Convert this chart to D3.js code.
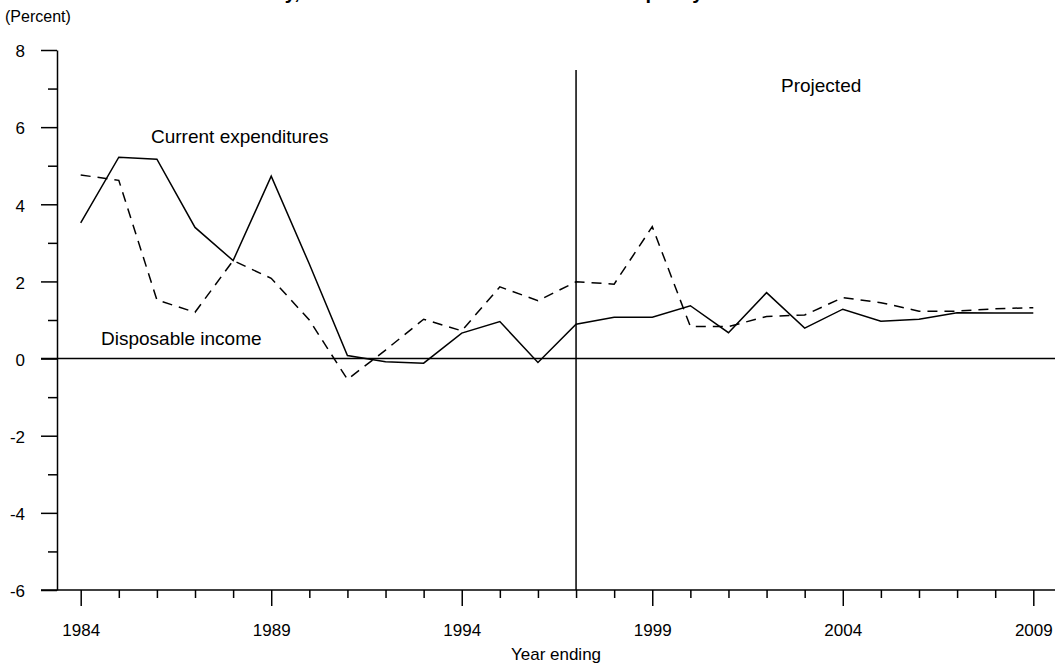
<!DOCTYPE html>
<html>
<head>
<meta charset="utf-8">
<script src="https://cdn.jsdelivr.net/npm/d3@7"></script>
<style>
  html, body { margin: 0; padding: 0; background: #fff; }
  svg { display: block; font-family: "Liberation Sans", Arial, Helvetica, sans-serif; }
</style>
</head>
<body>
<svg id="chart" width="1055" height="666"></svg>
<script>
// Annual growth, percent
const years = d3.range(1984, 2010);
const currentExpenditures = [3.52, 5.22, 5.17, 3.40, 2.54, 4.73, 2.45, 0.08, -0.08, -0.12,
  0.66, 0.96, -0.10, 0.89, 1.07, 1.07, 1.37, 0.67, 1.71, 0.79,
  1.28, 0.97, 1.02, 1.19, 1.18, 1.18];
const disposableIncome = [4.76, 4.62, 1.52, 1.20, 2.54, 2.08, 1.00, -0.54, 0.22, 1.02,
  0.72, 1.86, 1.50, 1.99, 1.93, 3.42, 0.83, 0.83, 1.09, 1.13,
  1.58, 1.45, 1.23, 1.23, 1.29, 1.32];
const yMajorTicks = [-6, -4, -2, 0, 2, 4, 6, 8];
const yMinorTicks = [-5, -3, -1, 1, 3, 5, 7];
const xMajorTicks = [1984, 1989, 1994, 1999, 2004, 2009];
const projectionStart = 1997;

const svg = d3.select("#chart");
const W = 1055;

const x = d3.scaleLinear().domain([1984, 2009]).range([80.7, 1033.3]);
const y = d3.scaleLinear().domain([-6, 8]).range([590, 50]);
const axisX = 57;
const plain = d => String(d);

// Title (runs off the top of the page)
svg.append("text")
  .attr("x", 188).attr("y", -1.5)
  .attr("font-size", 20).attr("font-weight", "bold")
  .text("Historically, Income Outran Costs Relative to Capacity");

svg.append("text")
  .attr("x", 5).attr("y", 22)
  .attr("font-size", 16)
  .text("(Percent)");

// Y axis
const gy = svg.append("g").attr("transform", `translate(${axisX},0)`);
gy.call(d3.axisLeft(y).tickValues(yMajorTicks).tickSize(16).tickSizeOuter(0).tickPadding(16).tickFormat(plain));
gy.append("g").call(d3.axisLeft(y).tickValues(yMinorTicks).tickSize(9).tickFormat(""))
  .select(".domain").remove();
gy.selectAll("line, path").attr("stroke", "#000").attr("stroke-width", 1.5);
gy.selectAll("text").attr("font-size", 17).attr("fill", "#000")
  .attr("font-family", "Liberation Sans, Arial, sans-serif").attr("dy", "0.4em");

// X axis
const gx = svg.append("g").attr("transform", `translate(0,${y(-6)})`);
gx.call(d3.axisBottom(x).tickValues(xMajorTicks).tickSize(16).tickPadding(18).tickFormat(plain));
gx.select(".domain").remove();
gx.append("g").call(d3.axisBottom(x).tickValues(years.filter(d => !xMajorTicks.includes(d))).tickSize(8).tickFormat(""))
  .select(".domain").remove();
gx.selectAll("line").attr("stroke", "#000").attr("stroke-width", 1.5);
gx.selectAll("text").attr("font-size", 17).attr("fill", "#000")
  .attr("font-family", "Liberation Sans, Arial, sans-serif");

svg.append("line")
  .attr("x1", 41).attr("x2", W).attr("y1", y(-6)).attr("y2", y(-6))
  .attr("stroke", "#000").attr("stroke-width", 1.5);

svg.append("text")
  .attr("x", 556).attr("y", 660)
  .attr("text-anchor", "middle").attr("font-size", 17)
  .text("Year ending");

// Zero line
svg.append("line")
  .attr("x1", 41).attr("x2", W).attr("y1", y(0)).attr("y2", y(0))
  .attr("stroke", "#000").attr("stroke-width", 1.5);

// Start of projections
svg.append("line")
  .attr("x1", x(projectionStart)).attr("x2", x(projectionStart))
  .attr("y1", 70).attr("y2", y(-6))
  .attr("stroke", "#000").attr("stroke-width", 1.5);

const line = d3.line().x(d => x(d[0])).y(d => y(d[1]));

svg.append("path")
  .datum(years.map((yr, i) => [yr, disposableIncome[i]]))
  .attr("d", line)
  .attr("fill", "none").attr("stroke", "#000").attr("stroke-width", 1.5)
  .attr("stroke-dasharray", "10,7");

svg.append("path")
  .datum(years.map((yr, i) => [yr, currentExpenditures[i]]))
  .attr("d", line)
  .attr("fill", "none").attr("stroke", "#000").attr("stroke-width", 1.5);

// Annotations
const notes = [
  { text: "Current expenditures", x: 151, y: 143 },
  { text: "Disposable income", x: 101, y: 345 },
  { text: "Projected", x: 781, y: 92 }
];
svg.selectAll("text.note").data(notes).join("text")
  .attr("class", "note")
  .attr("x", d => d.x).attr("y", d => d.y)
  .attr("font-size", 19)
  .text(d => d.text);
</script>
</body>
</html>
